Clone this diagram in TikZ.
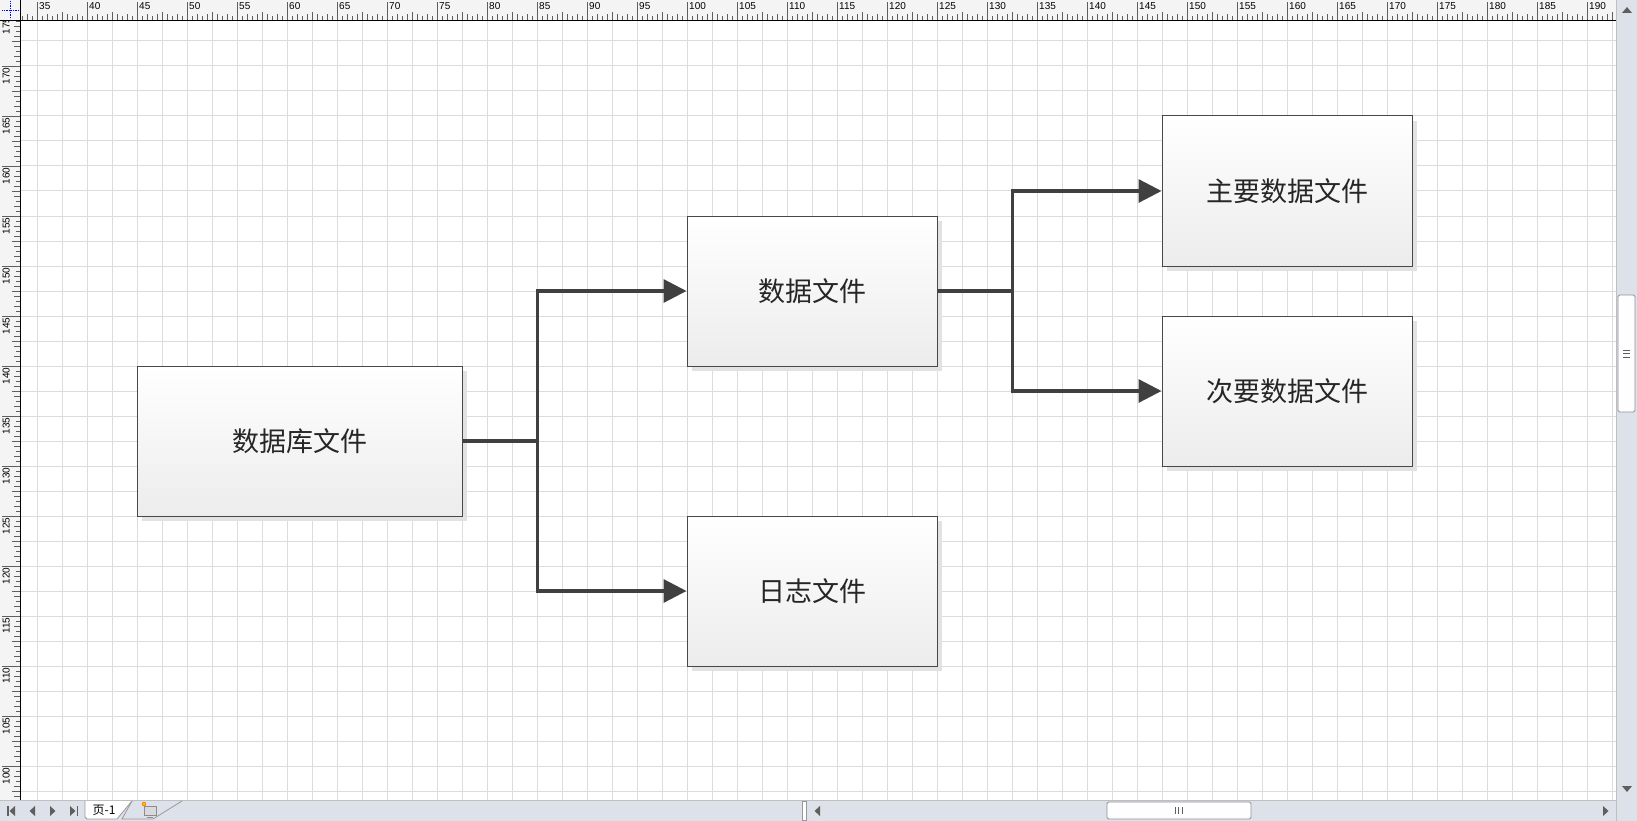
\documentclass[tikz,border=0pt]{standalone}
\usepackage{fontspec}
\setmainfont{Liberation Sans}
\newfontfamily\cjk{Noto Sans CJK SC}
\usepackage{tikz}
\usetikzlibrary{arrows.meta, positioning, shadows}

\definecolor{gridline}{RGB}{220,220,220}
\definecolor{rulerbg}{RGB}{244,244,244}
\definecolor{chrome}{RGB}{221,225,233}
\definecolor{linkgray}{RGB}{64,64,64}
\definecolor{boxedge}{RGB}{72,72,72}
\definecolor{boxlow}{RGB}{236,236,236}
\definecolor{shadowgray}{RGB}{226,226,226}
\definecolor{tickgray}{RGB}{95,95,95}
\definecolor{thumbedge}{RGB}{140,146,158}
\definecolor{thumbfill}{RGB}{240,242,246}

\begin{document}
\begin{tikzpicture}[
  x=1pt, y=-1pt,
  filebox/.style={rectangle, draw=boxedge, line width=1pt,
              top color=white, bottom color=boxlow,
              minimum width=250pt, minimum height=150pt, inner sep=0pt,
              font=\cjk\fontsize{27}{32}\selectfont, text=black!85,
              drop shadow={shadow xshift=5pt, shadow yshift=-5pt,
                           fill=shadowgray, opacity=1}},
  dbbox/.style={filebox, minimum width=325pt},
  link/.style={-{Triangle[length=23pt,width=23pt]}, line width=3.2pt, draw=linkgray},
  rulernum/.style={font=\fontsize{10}{10}\selectfont, inner sep=0pt, text=black},
  navtip/.style={fill=tickgray, draw=none},
  tabedge/.style={draw=black!40, line width=0.8pt}
]
\useasboundingbox (0,0) rectangle (1637,821);
\fill[white] (0,0) rectangle (1637,821);

% grid
\foreach \gx in {0,...,63}
  \draw[gridline, line width=1pt] ({37.5+25*\gx},20) -- ({37.5+25*\gx},800);
\foreach \gy in {1,...,31}
  \draw[gridline, line width=1pt] (20,{16+25*\gy}) -- (1616,{16+25*\gy});

% files
\node[dbbox] (db) at (299.5,441) {数据库文件};
\node[filebox, right=224pt of db, yshift=150pt] (data) {数据文件};
\node[filebox, right=224pt of db, yshift=-150pt] (log) {日志文件};
\node[filebox, right=224pt of data, yshift=100pt] (main) {主要数据文件};
\node[filebox, right=224pt of data, yshift=-100pt] (minor) {次要数据文件};

\coordinate (j1) at ([xshift=75pt]db.east);
\coordinate (j2) at ([xshift=75pt]data.east);
\draw[link] (db.east) -- (j1) |- (data.west);
\draw[link] (j1) |- (log.west);
\draw[link] (data.east) -- (j2) |- (main.west);
\draw[link] (j2) |- (minor.west);

% top ruler
\fill[rulerbg] (0,0) rectangle (1616,20);
\foreach \t in {-3,...,315}{
  \pgfmathsetmacro\tx{37.5+5*\t}
  \pgfmathtruncatemacro\tm{mod(\t+100,10)}
  \pgfmathtruncatemacro\tf{mod(\t+100,5)}
  \pgfmathtruncatemacro\th{mod(\t+100,2)}
  \ifnum\tm=0 \def\tl{18}\else\ifnum\tf=0 \def\tl{8}\else\ifnum\th=0 \def\tl{6}\else\def\tl{4}\fi\fi\fi
  \draw[tickgray, line width=0.8pt] (\tx,20) -- (\tx,20-\tl);
}
\foreach \v in {35,40,...,190}
  \node[rulernum, anchor=north west] at ({10*\v-311},2.5) {\v};

% left ruler
\fill[rulerbg] (0,20) rectangle (20,800);
\foreach \s in {1,...,156}{
  \pgfmathsetmacro\ty{16+5*\s}
  \pgfmathtruncatemacro\tm{mod(\s,10)}
  \pgfmathtruncatemacro\tf{mod(\s,5)}
  \pgfmathtruncatemacro\th{mod(\s,2)}
  \ifnum\tm=0 \def\tl{18}\else\ifnum\tf=0 \def\tl{8}\else\ifnum\th=0 \def\tl{6}\else\def\tl{4}\fi\fi\fi
  \draw[tickgray, line width=0.8pt] (20,\ty) -- (20-\tl,\ty);
}
\foreach \v in {175,170,...,100}
  \node[rulernum, rotate=90, anchor=north east] at (2.5,{1767.5-10*\v}) {\v};
\draw[black, line width=1pt] (0,20.5) -- (1616,20.5);
\draw[black, line width=1pt] (20.5,0) -- (20.5,800);

% corner
\fill[rulerbg] (0,0) rectangle (20,20);
\draw[black, line width=1pt] (0,20.5) -- (20.5,20.5) -- (20.5,0);
\draw[blue, densely dotted, line width=0.8pt] (2,10) -- (19,10) (10,1) -- (10,19);

% right scroll bar
\fill[chrome] (1616,0) rectangle (1637,821);
\draw[black!25, line width=0.8pt] (1616.5,0) -- (1616.5,800);
\fill[navtip] (1622,13) -- (1632,13) -- (1627,7) -- cycle;
\fill[navtip] (1622,786) -- (1632,786) -- (1627,792) -- cycle;
\draw[thumbedge, line width=0.8pt, left color=white, right color=thumbfill!90!black!5, rounded corners=1.5pt]
  (1618,295) rectangle (1635,412);
\draw[tickgray, line width=0.6pt] (1623,350) -- (1630,350) (1623,353.5) -- (1630,353.5) (1623,357) -- (1630,357);

% bottom bar
\fill[chrome] (0,800) rectangle (1637,821);
\draw[black!25, line width=0.8pt] (0,800.5) -- (1616,800.5);
\fill[navtip] (7,806) rectangle (8.5,816);
\fill[navtip] (15,806) -- (15,816) -- (9.5,811) -- cycle;
\fill[navtip] (35,806) -- (35,816) -- (29.5,811) -- cycle;
\fill[navtip] (50,806) -- (50,816) -- (55.5,811) -- cycle;
\fill[navtip] (70,806) -- (70,816) -- (75.5,811) -- cycle;
\fill[navtip] (76.5,806) rectangle (78,816);

% page tabs
\draw[tabedge, fill=white] (85,801) -- (85,817) -- (87,819) -- (117,819) -- (132,801);
\node[font=\cjk\fontsize{12}{12}\selectfont, inner sep=0pt] (pagetab) at (104,810) {页-1};
\draw[tabedge] (132,801) -- (122,819) -- (153,819) -- (182,801);
\fill[black!12] (143,806) rectangle (157,816);
\draw[black!45, fill=blue!10!black!15, line width=0.6pt] (144,806) rectangle (156,815);
\draw[black!45, line width=0.8pt] (147,817) -- (153,817);
\fill[orange] (144,804) circle (2.2pt);
\fill[yellow!80!orange] (144,804) circle (1.2pt);

% horizontal scroll bar
\draw[black!40, fill=white, line width=0.6pt] (802,801) rectangle (806,820);
\fill[navtip] (820,806) -- (820,816) -- (814.5,811) -- cycle;
\fill[navtip] (1603,806) -- (1603,816) -- (1608.5,811) -- cycle;
\draw[thumbedge, line width=0.8pt, top color=white, bottom color=thumbfill!90!black!5, rounded corners=1.5pt]
  (1107,802) rectangle (1251,819);
\draw[tickgray, line width=0.6pt] (1175,807) -- (1175,814) (1178.5,807) -- (1178.5,814) (1182,807) -- (1182,814);
\draw[black!25, line width=0.8pt] (1616.5,800) -- (1616.5,821);
\end{tikzpicture}
\end{document}
